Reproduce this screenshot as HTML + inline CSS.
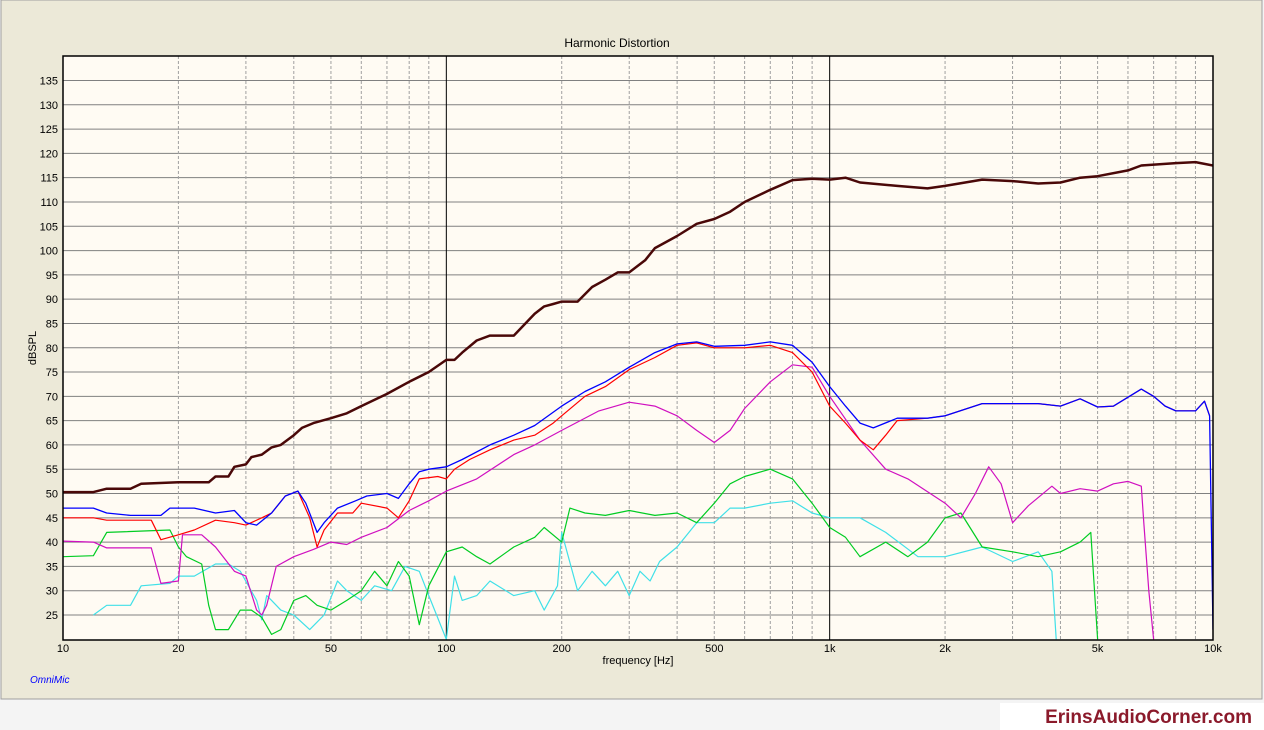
<!DOCTYPE html>
<html><head><meta charset="utf-8"><style>
body{margin:0;width:1264px;height:730px;overflow:hidden;background:#f4f4f4;font-family:"Liberation Sans",sans-serif}
</style></head><body>
<svg width="1264" height="730" style="position:absolute;left:0;top:0">
<rect x="1" y="0" width="1261" height="699" fill="#ece9d8" stroke="#a0a0a0"/>
<rect x="63" y="56" width="1150" height="584" fill="#fffbf3"/>
<g id="grid"></g>
<g id="series"></g>
<rect x="63" y="56" width="1150" height="584" fill="none" stroke="#000" stroke-width="1.5"/>
<text x="617" y="47" font-size="12" text-anchor="middle" fill="#000">Harmonic Distortion</text>
<text x="36" y="348" font-size="11" text-anchor="middle" transform="rotate(-90 36 348)">dBSPL</text>
<text x="638" y="664" font-size="11" text-anchor="middle">frequency [Hz]</text>
<text x="30" y="683" font-size="10" font-style="italic" fill="#0000ff">OmniMic</text>
<rect x="1000" y="703" width="264" height="27" fill="#fff"/>
<text x="1252" y="723" font-size="19" font-weight="bold" fill="#8b1a2b" text-anchor="end">ErinsAudioCorner.com</text>
<g id="labels"></g>
</svg>
<script>
const xTicks=[10,20,50,100,200,500,1000,2000,5000,10000];
const xTickLabels=["10","20","50","100","200","500","1k","2k","5k","10k"];
const yTicks=[25,30,35,40,45,50,55,60,65,70,75,80,85,90,95,100,105,110,115,120,125,130,135];
const fundF=[10,12,13,15,16,20,24,25,27,28,30,31,33,35,37,40,42,45,50,55,60,70,80,90,100,105,110,120,130,150,170,180,190,200,220,240,260,280,300,330,350,400,450,500,550,600,700,800,900,1000,1100,1200,1500,1800,2000,2500,3000,3500,4000,4500,5000,6000,6500,8000,9000,10000];
const fundV=[50.3,50.3,51,51,52,52.3,52.3,53.5,53.5,55.5,56,57.5,58,59.5,60,62,63.5,64.5,65.5,66.5,68,70.5,73,75,77.5,77.5,79,81.5,82.5,82.5,87,88.5,89,89.5,89.5,92.5,94,95.5,95.5,98,100.5,103,105.5,106.5,108,110,112.5,114.5,114.8,114.6,115,114,113.3,112.8,113.3,114.6,114.3,113.8,114,115,115.3,116.5,117.5,118,118.2,117.5];
const h2F=[10,12,13,17,18,20,22,25,28,30,33,35,38,41,44,46,48,52,57,60,70,75,80,85,95,100,105,115,130,150,170,190,200,230,260,300,350,400,450,500,600,700,800,900,1000,1100,1200,1300,1400,1500,1800,2000,2500,3000,3500,4000,4500,5000,5500,6500,7000,7500,8000,9000,9500,9800];
const h2V=[45,45,44.5,44.5,40.5,41.5,42.5,44.5,44,43.5,45,46,49.5,50.5,45,39,42.5,46,46,48,47,45,48.5,53,53.5,53,55,57,59,61,62,64.5,66,70,72,75.5,78,80.5,81,80,80,80.5,79,75,68,64.5,61,59,62,65,65.5,66,68.5,68.5,68.5,68,69.5,67.8,68,71.5,70,68,67,67,69,66];
const thdF=[10,12,13,15,18,19,22,25,28,30,32,35,38,41,43,46,48,52,58,62,70,75,80,85,90,100,110,130,150,170,200,230,260,300,350,400,450,500,600,700,800,900,1000,1100,1200,1300,1500,1800,2000,2500,3000,3500,4000,4500,5000,5500,6500,7000,7500,8000,9000,9500,9800,10000];
const thdV=[47,47,46,45.5,45.5,47,47,46,46.5,44,43.5,46,49.5,50.5,48,42,44,47,48.5,49.5,50,49,52,54.5,55,55.5,57,60,62,64,68,71,73,76,79,80.8,81.2,80.3,80.5,81.2,80.5,77,72,68,64.5,63.5,65.5,65.5,66,68.5,68.5,68.5,68,69.5,67.8,68,71.5,70,68,67,67,69,66,22];
const h3F=[10,12,13,17,18,20,20.5,23,25,28,30,32,33,34,36,40,45,50,55,60,70,80,90,100,120,150,170,200,250,300,350,400,450,500,550,600,700,800,900,1000,1200,1400,1600,2000,2200,2400,2600,2800,3000,3300,3800,4000,4500,5000,5500,6000,6500,6600,6800,7000];
const h3V=[40.2,40,38.8,38.8,31.5,32,41.5,41.5,39,34,33,26,25,27,35,37,38.5,40,39.5,41,43,46.5,48.5,50.5,53,58,60,63,67,68.8,68,66,63,60.5,63,67.5,73,76.5,76,70,61,55,53,48,45,50,55.5,52,44,47.5,51.5,50,51,50.5,52,52.5,51.5,44,30,20];
const h4F=[10,12,13,19,20,21,23,24,25,27,29,31,33,35,37,40,43,46,50,55,60,65,70,75,80,85,90,100,110,120,130,150,170,180,200,210,230,260,300,350,400,450,500,550,600,700,800,900,1000,1100,1200,1400,1600,1800,2000,2200,2500,3000,3500,4000,4500,4800,5000];
const h4V=[37,37.2,42,42.5,39,37,35.5,27,22,22,26,26,24.5,21,22,28,29,27,26,28,30,34,31,36,33,23,31,38,39,37,35.5,39,41,43,40,47,46,45.5,46.5,45.5,46,44,48,52,53.5,55,53,48,43,41,37,40,37,40,45,46,39,38,37,38,40,42,20];
const h5F=[12,13,15,16,19,20,22,25,27,29,32,33,34,35,37,40,44,48,52,55,60,65,72,78,85,90,100,105,110,120,130,150,170,180,195,200,220,240,260,280,300,320,340,360,400,450,500,550,600,700,800,900,1000,1200,1400,1700,2000,2500,3000,3500,3800,3900];
const h5V=[25,27,27,31,31.5,33,33,35.5,35.5,34,28,24,29,28,26,25,22,25,32,30,28,31,30,35,34,29,20,33,28,29,32,29,30,26,31,42,30,34,31,34,29,34,32,36,39,44,44,47,47,48,48.5,46,45,45,42,37,37,39,36,38,34,20];
const X0=63,X1=1213,Y0=56,Y1=640;
function xs(f){return X0+(X1-X0)*Math.log10(f/10)/3;}
function ys(v){return 615-(v-25)*(534.5/110);}
const NS="http://www.w3.org/2000/svg";
function mk(t,a,p){const e=document.createElementNS(NS,t);for(const k in a)e.setAttribute(k,a[k]);p.appendChild(e);return e;}
const grid=document.getElementById('grid'),lab=document.getElementById('labels');
yTicks.forEach(v=>{const l=mk('line',{x1:X0,x2:X1,y1:ys(v),y2:ys(v),stroke:'#808080','stroke-width':1},grid);


const t=mk('text',{x:58,y:ys(v)+4,'font-size':11,'text-anchor':'end'},lab);t.textContent=v;

});
for(let d=10;d<10000;d*=10){for(let m=1;m<10;m++){const f=d*m;if(m===1&&d===10)continue;const x=xs(f);
const solid=(m===1);
const l=mk('line',{x1:x,x2:x,y1:Y0,y2:Y1,stroke:solid?'#000':'#a0a0a0','stroke-width':1,'stroke-dasharray':solid?'':'3,2'},grid);

}}
xTicks.forEach((f,i)=>{const t=mk('text',{x:xs(f),y:652,'font-size':11,'text-anchor':'middle'},lab);t.textContent=xTickLabels[i];

});
const ser=document.getElementById('series');
const cp=mk('clipPath',{id:'cp'},ser);mk('rect',{x:X0,y:Y0,width:X1-X0,height:Y1-Y0},cp);
function line(F,V,col,w,name){const p=mk('polyline',{points:F.map((f,i)=>xs(f).toFixed(1)+','+ys(V[i]).toFixed(1)).join(' '),fill:'none',stroke:col,'stroke-width':w,'stroke-linejoin':'round','clip-path':'url(#cp)'},ser);

}
line(h5F,h5V,'#40e0e8',1.2,'h5-line');
line(h4F,h4V,'#00cc22',1.2,'h4-line');
line(h3F,h3V,'#d010c0',1.2,'h3-line');
line(h2F,h2V,'#ff0000',1.2,'h2-line');
line(thdF,thdV,'#0000ff',1.3,'thd-line');
line(fundF,fundV,'#4a0808',2.5,'fundamental-line');
</script>
</body></html>
